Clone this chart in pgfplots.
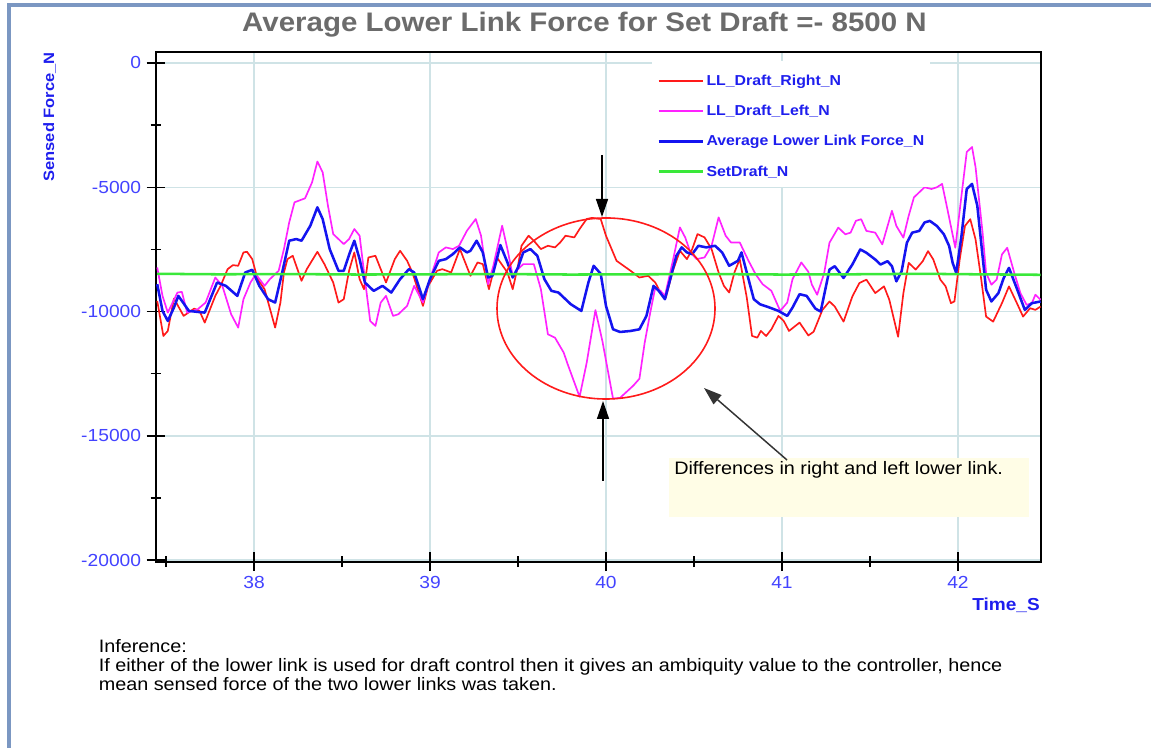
\documentclass[border=0pt]{standalone}
\usepackage{fontspec}
\setmainfont{Liberation Sans}[FakeStretch=1.1]
\usepackage{pgfplots}
\pgfplotsset{compat=1.18}
\usetikzlibrary{arrows.meta}
\definecolor{frameblue}{HTML}{7B97C2}
\definecolor{titlegray}{HTML}{6B6B6B}
\definecolor{ticklab}{HTML}{4343FF}
\definecolor{labblue}{HTML}{1E1EEE}
\definecolor{gridc}{HTML}{CFE3E6}
\definecolor{llred}{HTML}{FF1A1A}
\definecolor{llmag}{HTML}{FF22FF}
\definecolor{llblue}{HTML}{1414F0}
\definecolor{llgreen}{HTML}{3AE83A}
\definecolor{noteyellow}{HTML}{FFFDE6}
\newcommand{\titlefont}{\fontsize{20.1pt}{24pt}\selectfont\bfseries}
\newcommand{\tickfont}{\fontsize{13.1pt}{15pt}\selectfont}
\newcommand{\legfont}{\fontsize{10.8pt}{13pt}\selectfont\bfseries}
\newcommand{\ylabfont}{\fontsize{11.25pt}{13pt}\selectfont\bfseries}
\newcommand{\xlabfont}{\fontsize{13pt}{15pt}\selectfont\bfseries}
\newcommand{\notefont}{\fontsize{13.5pt}{16pt}\selectfont}
\begin{document}
\begin{tikzpicture}[x=0.75pt,y=0.75pt]
\path[use as bounding box, fill=white] (0,0) rectangle (1151,748);
\draw[frameblue, line width=2.3pt] (9,0) -- (9,743) -- (1151,743);
\node[anchor=base, font=\titlefont, text=titlegray, inner sep=0pt] at (584.5,716.3) {Average Lower Link Force for Set Draft =- 8500 N};
\begin{axis}[
  at={(117pt,139.725pt)}, anchor=south west, scale only axis,
  width=663.75pt, height=382.3pt,
  xmin=37.443, xmax=42.472, ymin=-20060, ymax=443,
  scaled y ticks=false, scaled x ticks=false,
  axis line style={line width=1.4pt, black},
  xtick={38,39,40,41,42}, xticklabels={38,39,40,41,42},
  minor xtick={37.5,38.5,39.5,40.5,41.5},
  ytick={0,-5000,-10000,-15000,-20000}, yticklabels={0,-5000,-10000,-15000,-20000},
  minor ytick={-2500,-7500,-12500,-17500},
  xtick pos=left, ytick pos=left,
  tick align=center,
  major tick length=14pt, minor tick length=8pt,
  every tick/.style={black, line width=1.1pt},
  grid=major, major grid style={gridc, line width=1.1pt},
  ticklabel style={font=\tickfont, text=ticklab, inner sep=0pt},
  xticklabel style={anchor=north, yshift=-4pt},
  yticklabel style={anchor=east, xshift=-4pt},
  xlabel={Time\_S}, ylabel={Sensed Force\_N},
  xlabel style={at={(axis description cs:0.9989,-0.0948)}, anchor=base east, font=\xlabfont, text=labblue, inner sep=0pt},
  ylabel style={at={(axis description cs:-0.1203,0.8725)}, anchor=center, font=\ylabfont, text=labblue, inner sep=0pt},
  legend style={at={(axis description cs:0.5605,0.974)}, anchor=north west, fill=white, draw=none,
    font=\legfont, nodes={text=labblue}, inner xsep=3.75pt, inner ysep=5pt, row sep=9.4pt,
    /tikz/every even column/.append style={column sep=4.5pt}},
  legend cell align=left,
  legend image code/.code={\draw[#1] (0pt,0.2pt) -- (33pt,0.2pt);},
]
\addplot[color=llred, line width=1.25pt, line join=round] table {
t v
37.45 -9570
37.485 -10981
37.51 -10780
37.545 -9475
37.60 -10174
37.66 -9880
37.69 -9970
37.72 -10443
37.78 -9368
37.81 -8965
37.85 -8293
37.88 -8131
37.91 -8158
37.94 -7620
37.96 -7594
37.99 -7890
38.02 -8696
38.06 -9100
38.12 -10645
38.15 -9637
38.17 -8427
38.19 -7890
38.22 -7755
38.27 -8763
38.30 -8293
38.36 -7594
38.40 -8091
38.45 -8830
38.48 -9637
38.51 -9502
38.54 -8360
38.57 -7620
38.60 -8696
38.625 -9100
38.65 -7822
38.69 -7755
38.75 -8830
38.80 -7890
38.83 -7554
38.87 -7957
38.90 -8427
38.96 -9771
38.99 -8965
39.04 -8360
39.07 -8293
39.12 -8427
39.17 -7486
39.23 -8562
39.27 -8024
39.30 -8091
39.335 -9100
39.38 -7822
39.44 -8427
39.47 -9100
39.50 -8158
39.52 -7352
39.56 -6949
39.59 -7150
39.63 -7486
39.67 -7352
39.71 -7419
39.74 -7218
39.77 -6949
39.82 -7016
39.85 -6680
39.89 -6277
39.92 -6230
39.97 -6277
40.00 -6949
40.06 -7957
40.14 -8360
40.19 -8629
40.24 -8562
40.28 -8830
40.31 -9234
40.34 -9435
40.38 -8360
40.42 -7554
40.46 -7890
40.49 -7486
40.52 -6882
40.56 -7016
40.60 -7486
40.64 -8427
40.67 -8965
40.70 -9234
40.73 -8427
40.76 -7890
40.80 -9435
40.83 -10981
40.86 -11048
40.88 -10779
40.91 -10981
40.94 -10712
40.98 -10174
41.01 -10376
41.04 -10779
41.10 -10443
41.15 -10960
41.18 -10810
41.23 -9931
41.27 -9593
41.30 -9796
41.35 -10404
41.40 -9391
41.44 -8850
41.48 -8715
41.53 -9256
41.58 -8985
41.61 -9526
41.66 -11012
41.69 -9256
41.72 -8040
41.76 -8310
41.80 -7972
41.83 -7567
41.86 -7905
41.90 -8715
41.93 -8985
41.96 -9661
41.98 -9593
42.01 -7905
42.04 -6554
42.07 -6283
42.10 -7094
42.13 -8580
42.16 -10201
42.20 -10404
42.25 -9661
42.29 -8985
42.335 -9661
42.37 -10201
42.41 -9863
42.44 -9931
42.47 -9796
};
\addlegendentry{LL\_Draft\_Right\_N}
\addplot[color=llmag, line width=1.25pt, line join=round] table {
t v
37.45 -8226
37.48 -9368
37.51 -10040
37.565 -9234
37.59 -9207
37.62 -10040
37.68 -9906
37.725 -9637
37.78 -8629
37.82 -8965
37.87 -10107
37.91 -10645
37.94 -9502
37.98 -8830
38.01 -8494
38.06 -8965
38.09 -8696
38.14 -8360
38.17 -7486
38.20 -6411
38.23 -5605
38.29 -5444
38.33 -4798
38.36 -3965
38.39 -4395
38.42 -5739
38.45 -6882
38.51 -7285
38.54 -7083
38.57 -6680
38.60 -6949
38.63 -8696
38.66 -10376
38.69 -10578
38.72 -9637
38.75 -9368
38.79 -10174
38.82 -10107
38.87 -9771
38.91 -8965
38.96 -9637
39.00 -8696
39.05 -7620
39.09 -7419
39.13 -7486
39.165 -7352
39.21 -6747
39.26 -6277
39.29 -6949
39.33 -8900
39.36 -8158
39.41 -6546
39.44 -7486
39.47 -8562
39.50 -8293
39.53 -8091
39.59 -8091
39.63 -9100
39.67 -10914
39.71 -11048
39.76 -11653
39.78 -12072
39.85 -13427
39.89 -12072
39.94 -9939
39.98 -11200
40.04 -13500
40.08 -13470
40.155 -12980
40.19 -12700
40.22 -11250
40.25 -10100
40.28 -9032
40.31 -9166
40.335 -9368
40.38 -7957
40.42 -6613
40.45 -7016
40.48 -7621
40.515 -7890
40.56 -7822
40.60 -7352
40.64 -6210
40.68 -6949
40.71 -7218
40.76 -7218
40.81 -7957
40.85 -8494
40.89 -8898
40.94 -9166
40.99 -9973
41.03 -9637
41.06 -8696
41.11 -8024
41.15 -8400
41.17 -8918
41.20 -9323
41.24 -8445
41.27 -7229
41.32 -6621
41.36 -6891
41.39 -6824
41.42 -6351
41.45 -6283
41.48 -6756
41.53 -6824
41.57 -7297
41.625 -5946
41.65 -6554
41.69 -7026
41.72 -6148
41.75 -5405
41.78 -5203
41.81 -5000
41.85 -5068
41.88 -5000
41.91 -4865
41.94 -5878
41.985 -7432
42.02 -5338
42.05 -3581
42.08 -3379
42.10 -4189
42.14 -6824
42.16 -8445
42.19 -8918
42.22 -8715
42.25 -7702
42.28 -7432
42.32 -8445
42.355 -9256
42.39 -9729
42.42 -9661
42.44 -9323
42.47 -9526
};
\addlegendentry{LL\_Draft\_Left\_N}
\addplot[color=llblue, line width=1.9pt, line join=round] table {
t v
37.45 -8898
37.48 -9973
37.51 -10376
37.545 -9838
37.57 -9368
37.63 -9973
37.68 -10013
37.72 -10040
37.79 -8830
37.84 -8965
37.905 -9368
37.95 -8427
37.99 -8320
38.03 -8965
38.08 -9502
38.12 -9637
38.16 -8427
38.20 -7150
38.24 -7083
38.27 -7150
38.32 -6546
38.36 -5806
38.39 -6277
38.43 -7486
38.48 -8360
38.51 -8360
38.545 -7620
38.57 -7150
38.60 -7890
38.63 -8830
38.68 -9166
38.73 -8965
38.78 -9234
38.83 -8696
38.88 -8293
38.91 -8427
38.96 -9502
39.00 -8696
39.05 -7957
39.09 -7890
39.13 -7688
39.17 -7419
39.21 -7620
39.23 -7554
39.265 -7150
39.30 -7620
39.33 -8629
39.355 -8562
39.40 -7325
39.44 -8024
39.47 -8629
39.50 -8226
39.53 -7620
39.57 -7486
39.61 -7755
39.65 -8696
39.69 -9166
39.73 -9234
39.80 -9704
39.86 -9973
39.90 -8830
39.93 -8158
39.97 -8480
40.00 -9771
40.04 -10712
40.08 -10820
40.14 -10779
40.19 -10712
40.23 -10174
40.27 -8965
40.30 -9166
40.335 -9502
40.36 -8830
40.40 -7755
40.43 -7419
40.46 -7620
40.49 -7688
40.525 -7352
40.57 -7419
40.62 -7352
40.66 -7620
40.70 -8158
40.75 -7957
40.77 -7620
40.81 -8696
40.84 -9502
40.875 -9704
40.93 -9838
40.98 -9973
41.03 -10174
41.06 -9838
41.10 -9301
41.14 -9368
41.19 -9880
41.22 -9999
41.25 -8985
41.27 -8310
41.30 -8175
41.35 -8648
41.40 -8107
41.445 -7500
41.48 -7635
41.53 -7905
41.56 -8107
41.60 -7972
41.625 -8175
41.65 -8783
41.68 -8378
41.71 -7229
41.74 -6824
41.78 -6756
41.81 -6418
41.84 -6351
41.88 -6554
41.92 -6891
41.95 -7364
41.97 -8040
41.99 -8445
42.02 -6959
42.05 -5068
42.08 -4865
42.11 -5743
42.14 -7770
42.16 -9121
42.19 -9593
42.23 -9256
42.26 -8648
42.29 -8242
42.33 -8985
42.355 -9458
42.38 -9931
42.42 -9661
42.47 -9593
};
\addlegendentry{Average Lower Link Force\_N}
\addplot[color=llgreen, line width=1.9pt, line join=round] table {
t v
37.45 -8480
37.80 -8500
38.20 -8490
38.60 -8510
39.00 -8500
39.40 -8490
39.80 -8510
40.20 -8500
40.60 -8490
41.00 -8510
41.40 -8500
41.80 -8480
42.10 -8500
42.47 -8520
};
\addlegendentry{SetDraft\_N}
\end{axis}
\fill[white] (652,677) rectangle (930,687);
\draw[llred, line width=1.2pt] (606,439.5) ellipse [x radius=81.75pt, y radius=67.9pt];
\draw[-{Triangle[length=13.5pt,width=9pt]}, line width=1.1pt] (602,593) -- (602,531);
\draw[-{Triangle[length=13.5pt,width=9pt]}, line width=1.1pt] (603,267) -- (603,347);
\fill[noteyellow] (669,290) rectangle (1029,231);
\node[anchor=base west, font=\notefont, inner sep=0pt] at (674,273.7) {Differences in right and left lower link.};
\draw[-{Triangle[length=13.5pt,width=9pt]}, line width=1.1pt, black!80] (787,288) -- (704,360);
\node[anchor=base west, font=\notefont, inner sep=0pt] at (98.5,95) {Inference:};
\node[anchor=base west, font=\notefont, inner sep=0pt] at (98.5,76) {If either of the lower link is used for draft control then it gives an ambiquity value to the controller, hence};
\node[anchor=base west, font=\notefont, inner sep=0pt] at (98.5,57) {mean sensed force of the two lower links was taken.};
\end{tikzpicture}
\end{document}
